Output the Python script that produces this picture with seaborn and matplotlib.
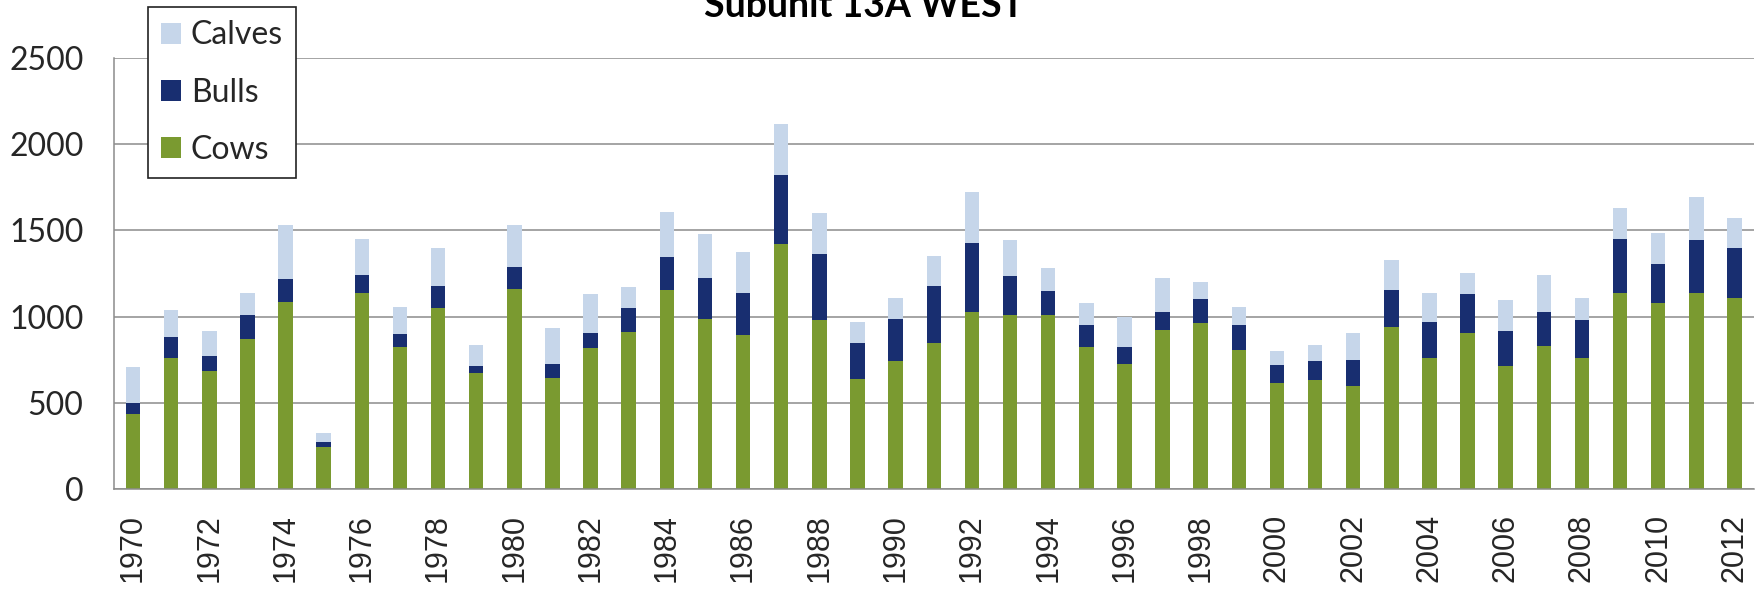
import numpy as np
import pandas as pd
import matplotlib
matplotlib.use("Agg")
import matplotlib.pyplot as plt
from matplotlib.patches import Patch
import seaborn as sns

years = list(range(1970, 2013))
cows = [433, 762, 685, 868, 1083, 245, 1135, 826, 1052, 675,
        1159, 642, 816, 913, 1155, 985, 894, 1420, 981, 636,
        745, 845, 1029, 1010, 1010, 826, 723, 923, 965, 807,
        613, 633, 598, 942, 762, 903, 716, 830, 758, 1135,
        1077, 1135, 1106]
bulls = [64, 118, 87, 142, 134, 26, 107, 71, 126, 39,
         131, 81, 89, 135, 193, 237, 241, 402, 381, 209,
         240, 333, 400, 228, 139, 126, 103, 106, 138, 145,
         107, 110, 151, 213, 209, 227, 201, 199, 223, 314,
         227, 310, 294]
calves = [213, 159, 145, 125, 313, 52, 207, 159, 219, 122,
          240, 209, 225, 126, 261, 256, 242, 294, 241, 126,
          125, 176, 291, 207, 131, 125, 174, 197, 100, 102,
          81, 93, 154, 174, 164, 121, 180, 213, 125, 180,
          180, 246, 171]
series_names = ["Calves", "Bulls", "Cows"]
yticks = [0, 500, 1000, 1500, 2000, 2500]
title = "Subunit 13A WEST"

c_cows = "#7A9A30"
c_bulls = "#182E70"
c_calves = "#C6D6EA"
grid_c = "#8C8C8C"

df = pd.DataFrame({"year": [str(y) for y in years],
                   "cows": cows, "bulls": bulls, "calves": calves})
df["cb"] = df["cows"] + df["bulls"]
df["total"] = df["cb"] + df["calves"]

sns.set_style("white")
plt.rcParams["font.family"] = ["Lato", "DejaVu Sans"]

W, H = 1760, 590
fig = plt.figure(figsize=(W / 100, H / 100), dpi=100)
ax = fig.add_axes([114 / W, 1 - 489 / H, (1753.5 - 114) / W, (489 - 58) / H])

bw = 0.38
sns.barplot(data=df, x="year", y="total", color=c_calves, width=bw,
            saturation=1, ax=ax, linewidth=0)
sns.barplot(data=df, x="year", y="cb", color=c_bulls, width=bw,
            saturation=1, ax=ax, linewidth=0)
sns.barplot(data=df, x="year", y="cows", color=c_cows, width=bw,
            saturation=1, ax=ax, linewidth=0)

ax.set_xlabel("")
ax.set_ylabel("")
ax.set_xlim(-0.5, len(years) - 0.5)
ax.set_ylim(0, 2500)

ax.set_yticks(yticks)
ax.set_yticklabels([str(v) for v in yticks])
ax.yaxis.grid(True, color=grid_c, linewidth=1.1)
ax.set_axisbelow(True)

xt = list(range(0, len(years), 2))
ax.set_xticks(xt)
ax.set_xticklabels([str(years[i]) for i in xt], rotation=90)
ax.set_xticks(np.arange(-0.5, len(years) - 0.5, 2), minor=True)

ax.tick_params(axis="x", which="major", length=0, pad=18)
ax.tick_params(axis="x", which="minor", length=7, width=1.1, color=grid_c,
               direction="out")
ax.tick_params(axis="y", which="major", length=7, width=1.1, color=grid_c,
               direction="out", pad=15)

for lab in ax.get_yticklabels():
    lab.set_fontfamily(["Lato", "DejaVu Sans"])
    lab.set_fontsize(23)
for lab in ax.get_xticklabels():
    lab.set_fontfamily(["Liberation Sans", "DejaVu Sans"])
    lab.set_fontsize(22)

for s in ["top", "right"]:
    ax.spines[s].set_visible(False)
for s in ["left", "bottom"]:
    ax.spines[s].set_color(grid_c)
    ax.spines[s].set_linewidth(1.1)

handles = [Patch(facecolor=c_calves, edgecolor="none"),
           Patch(facecolor=c_bulls, edgecolor="none"),
           Patch(facecolor=c_cows, edgecolor="none")]
leg = fig.legend(handles, series_names, loc="upper left",
                 bbox_to_anchor=(148 / W, 1 - 7 / H), borderaxespad=0,
                 fontsize=23, frameon=True, fancybox=False,
                 edgecolor="#222222", framealpha=1,
                 handlelength=0.62, handleheight=0.62, handletextpad=0.3,
                 labelspacing=0.85, borderpad=0.42)
leg.get_frame().set_linewidth(1.2)

fig.text(0.491, 1 - 17 / H, title, ha="center", va="baseline",
         fontsize=27, fontweight="bold", color="black")

fig.savefig("out.png", dpi=100)
